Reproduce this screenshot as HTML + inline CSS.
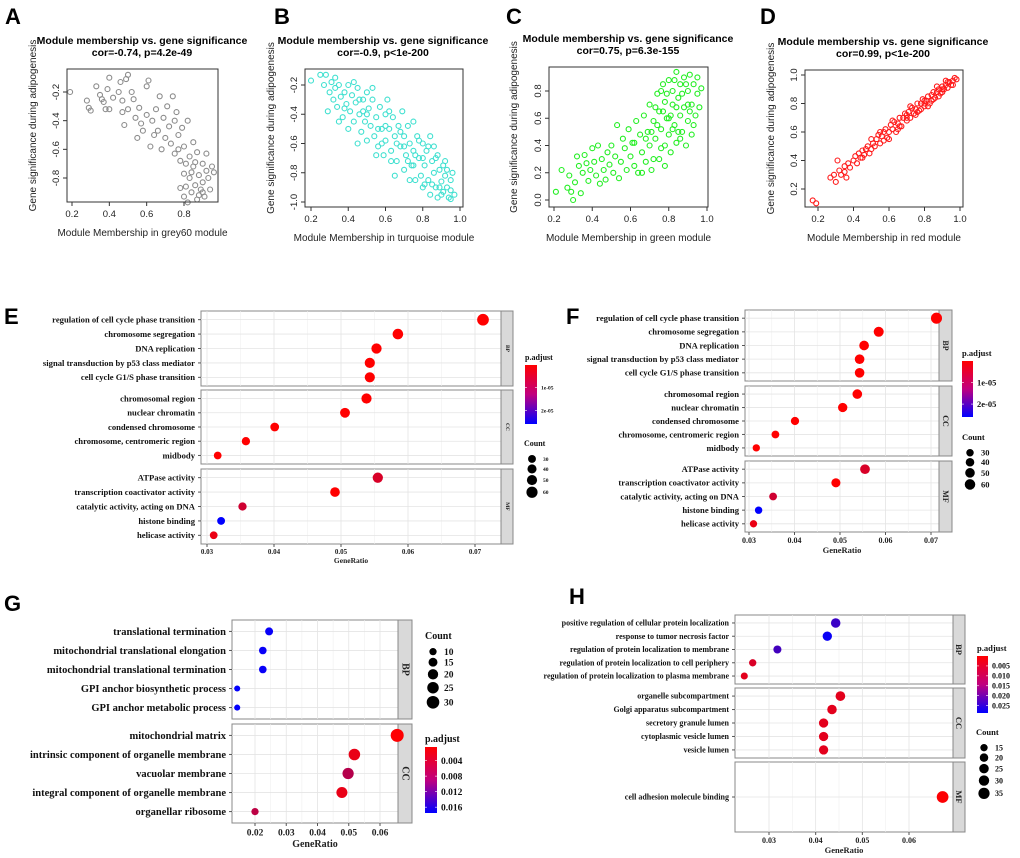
<!DOCTYPE html>
<html><head><meta charset="utf-8">
<style>
html,body{margin:0;padding:0;background:#fff;}
svg{display:block;}
.pl{font-family:"Liberation Sans",Arial,sans-serif;font-weight:bold;font-size:22px;fill:#000;}
.st{font-family:"Liberation Sans",Arial,sans-serif;}
.sf{font-family:"Liberation Serif","Times New Roman",serif;font-weight:bold;}
</style></head>
<body>
<svg id="fig" width="1020" height="858" viewBox="0 0 1020 858" xmlns="http://www.w3.org/2000/svg">
<rect width="1020" height="858" fill="#fff"/>
<text class="pl" x="5" y="24">A</text>
<text class="pl" x="274" y="24">B</text>
<text class="pl" x="506" y="24">C</text>
<text class="pl" x="760" y="24">D</text>
<text class="pl" x="4" y="324">E</text>
<text class="pl" x="566" y="324">F</text>
<text class="pl" x="4" y="611">G</text>
<text class="pl" x="569" y="604">H</text>
</svg>
<script>
// ---------- scatter data (module membership, gene significance) ----------
const pointsA = [[0.19,-0.2],[0.28,-0.26],[0.29,-0.31],[0.3,-0.33],[0.33,-0.16],[0.35,-0.22],[0.36,-0.25],[0.37,-0.27],[0.38,-0.32],[0.39,-0.18],[0.4,-0.1],[0.4,-0.32],[0.42,-0.24],[0.45,-0.2],[0.46,-0.13],[0.47,-0.26],[0.47,-0.34],[0.48,-0.43],[0.49,-0.11],[0.5,-0.32],[0.5,-0.08],[0.52,-0.2],[0.53,-0.25],[0.54,-0.38],[0.55,-0.52],[0.56,-0.31],[0.57,-0.42],[0.58,-0.47],[0.6,-0.16],[0.6,-0.36],[0.61,-0.12],[0.62,-0.58],[0.63,-0.4],[0.64,-0.5],[0.65,-0.32],[0.66,-0.47],[0.67,-0.23],[0.68,-0.6],[0.69,-0.38],[0.7,-0.52],[0.71,-0.3],[0.72,-0.44],[0.73,-0.56],[0.74,-0.23],[0.75,-0.4],[0.75,-0.63],[0.76,-0.34],[0.77,-0.5],[0.78,-0.68],[0.79,-0.45],[0.8,-0.58],[0.8,-0.77],[0.8,-0.93],[0.81,-0.86],[0.82,-0.4],[0.83,-0.65],[0.83,-0.8],[0.84,-0.9],[0.85,-0.55],[0.85,-0.72],[0.86,-0.85],[0.87,-0.62],[0.87,-0.95],[0.88,-0.78],[0.89,-0.88],[0.9,-0.7],[0.9,-0.83],[0.91,-0.93],[0.92,-0.75],[0.93,-0.8],[0.94,-0.88],[0.95,-0.72],[0.96,-0.76],[0.82,-0.97],[0.78,-0.87],[0.86,-0.69],[0.92,-0.63],[0.88,-0.92],[0.84,-0.76],[0.9,-0.9],[0.81,-0.7],[0.77,-0.6]];
const pointsB = [[0.2,-0.17],[0.25,-0.13],[0.27,-0.2],[0.28,-0.13],[0.29,-0.38],[0.3,-0.25],[0.31,-0.18],[0.32,-0.3],[0.33,-0.22],[0.34,-0.35],[0.35,-0.2],[0.36,-0.28],[0.37,-0.42],[0.38,-0.25],[0.39,-0.33],[0.4,-0.2],[0.41,-0.38],[0.42,-0.27],[0.43,-0.45],[0.44,-0.32],[0.45,-0.22],[0.46,-0.4],[0.47,-0.52],[0.48,-0.3],[0.49,-0.45],[0.5,-0.25],[0.5,-0.58],[0.51,-0.36],[0.52,-0.48],[0.53,-0.3],[0.54,-0.55],[0.55,-0.42],[0.56,-0.62],[0.57,-0.35],[0.58,-0.5],[0.59,-0.68],[0.6,-0.4],[0.6,-0.58],[0.61,-0.3],[0.62,-0.5],[0.63,-0.65],[0.64,-0.42],[0.65,-0.55],[0.66,-0.72],[0.67,-0.48],[0.68,-0.62],[0.69,-0.38],[0.7,-0.55],[0.7,-0.78],[0.71,-0.68],[0.72,-0.48],[0.73,-0.6],[0.74,-0.75],[0.75,-0.45],[0.75,-0.65],[0.76,-0.85],[0.77,-0.55],[0.78,-0.7],[0.79,-0.82],[0.8,-0.6],[0.8,-0.9],[0.81,-0.75],[0.82,-0.65],[0.83,-0.85],[0.84,-0.55],[0.84,-0.95],[0.85,-0.72],[0.86,-0.8],[0.87,-0.9],[0.88,-0.68],[0.88,-0.97],[0.89,-0.78],[0.9,-0.86],[0.91,-0.93],[0.92,-0.72],[0.92,-0.82],[0.93,-0.9],[0.94,-0.97],[0.95,-0.85],[0.95,-0.92],[0.96,-0.8],[0.97,-0.95],[0.45,-0.6],[0.55,-0.68],[0.65,-0.82],[0.4,-0.5],[0.35,-0.45],[0.5,-0.4],[0.6,-0.48],[0.7,-0.62],[0.8,-0.7],[0.9,-0.95],[0.85,-0.88],[0.75,-0.75],[0.62,-0.38],[0.53,-0.22],[0.43,-0.18],[0.33,-0.15],[0.78,-0.58],[0.86,-0.62],[0.91,-0.75],[0.73,-0.85],[0.68,-0.52],[0.58,-0.6],[0.48,-0.38],[0.38,-0.36],[0.63,-0.72],[0.83,-0.62],[0.93,-0.78],[0.87,-0.7],[0.66,-0.6],[0.56,-0.5],[0.46,-0.3],[0.76,-0.68],[0.81,-0.88],[0.89,-0.9],[0.95,-0.98],[0.72,-0.72]];
const pointsC = [[0.21,0.06],[0.24,0.22],[0.27,0.09],[0.28,0.18],[0.29,0.06],[0.3,0.0],[0.31,0.13],[0.32,0.32],[0.33,0.25],[0.34,0.05],[0.35,0.2],[0.36,0.33],[0.37,0.27],[0.38,0.14],[0.39,0.22],[0.4,0.38],[0.41,0.28],[0.42,0.18],[0.43,0.4],[0.44,0.12],[0.45,0.3],[0.46,0.22],[0.47,0.15],[0.48,0.35],[0.49,0.26],[0.5,0.4],[0.51,0.2],[0.52,0.32],[0.53,0.55],[0.54,0.16],[0.55,0.28],[0.56,0.45],[0.57,0.38],[0.58,0.22],[0.59,0.52],[0.6,0.32],[0.61,0.42],[0.62,0.25],[0.63,0.58],[0.64,0.2],[0.65,0.48],[0.66,0.35],[0.67,0.62],[0.68,0.28],[0.69,0.5],[0.7,0.4],[0.7,0.7],[0.71,0.22],[0.72,0.58],[0.73,0.45],[0.74,0.78],[0.75,0.3],[0.75,0.65],[0.76,0.52],[0.77,0.85],[0.78,0.4],[0.78,0.72],[0.79,0.6],[0.8,0.88],[0.8,0.48],[0.81,0.35],[0.82,0.7],[0.82,0.8],[0.83,0.55],[0.84,0.94],[0.84,0.42],[0.85,0.75],[0.86,0.62],[0.86,0.85],[0.87,0.5],[0.88,0.9],[0.88,0.68],[0.89,0.4],[0.9,0.8],[0.9,0.58],[0.91,0.92],[0.92,0.7],[0.92,0.48],[0.93,0.85],[0.94,0.62],[0.95,0.78],[0.95,0.9],[0.96,0.68],[0.97,0.82],[0.72,0.3],[0.66,0.2],[0.62,0.42],[0.76,0.38],[0.8,0.6],[0.85,0.5],[0.9,0.7],[0.83,0.88],[0.78,0.25],[0.74,0.55],[0.68,0.45],[0.79,0.78],[0.81,0.62],[0.87,0.78],[0.93,0.55],[0.77,0.65],[0.84,0.68],[0.89,0.85],[0.76,0.8],[0.73,0.68],[0.86,0.45],[0.91,0.65],[0.82,0.52],[0.71,0.5]];
const pointsD = [[0.17,0.12],[0.19,0.1],[0.27,0.28],[0.29,0.3],[0.3,0.25],[0.31,0.4],[0.32,0.33],[0.33,0.3],[0.35,0.36],[0.36,0.28],[0.37,0.38],[0.38,0.35],[0.4,0.4],[0.41,0.43],[0.42,0.38],[0.43,0.45],[0.44,0.42],[0.45,0.47],[0.46,0.44],[0.47,0.48],[0.48,0.5],[0.49,0.45],[0.5,0.55],[0.51,0.52],[0.52,0.5],[0.53,0.55],[0.54,0.58],[0.55,0.52],[0.56,0.57],[0.57,0.6],[0.58,0.62],[0.59,0.56],[0.6,0.6],[0.61,0.65],[0.62,0.62],[0.63,0.67],[0.64,0.6],[0.65,0.66],[0.66,0.7],[0.67,0.64],[0.68,0.7],[0.69,0.73],[0.7,0.68],[0.71,0.74],[0.72,0.7],[0.73,0.77],[0.74,0.73],[0.75,0.76],[0.76,0.8],[0.77,0.75],[0.78,0.8],[0.79,0.83],[0.8,0.78],[0.81,0.82],[0.82,0.85],[0.83,0.8],[0.84,0.86],[0.85,0.88],[0.86,0.84],[0.87,0.88],[0.88,0.9],[0.89,0.87],[0.9,0.92],[0.91,0.9],[0.92,0.93],[0.93,0.91],[0.94,0.95],[0.95,0.93],[0.96,0.96],[0.97,0.98],[0.98,0.97],[0.55,0.6],[0.65,0.62],[0.75,0.72],[0.85,0.83],[0.9,0.88],[0.62,0.68],[0.7,0.72],[0.8,0.82],[0.45,0.42],[0.5,0.48],[0.35,0.32],[0.6,0.55],[0.72,0.78],[0.82,0.78],[0.92,0.96],[0.88,0.85],[0.78,0.76],[0.87,0.92],[0.93,0.95],[0.84,0.82],[0.76,0.74],[0.66,0.64],[0.57,0.54],[0.96,0.93],[0.9,0.9],[0.8,0.8],[0.7,0.7]];

// ---------- GO dot plot data ----------
const termsE = ["regulation of cell cycle phase transition","chromosome segregation","DNA replication","signal transduction by p53 class mediator","cell cycle G1/S phase transition","chromosomal region","nuclear chromatin","condensed chromosome","chromosome, centromeric region","midbody","ATPase activity","transcription coactivator activity","catalytic activity, acting on DNA","histone binding","helicase activity"];
const facetsE = ["BP","BP","BP","BP","BP","CC","CC","CC","CC","CC","MF","MF","MF","MF","MF"];
const ratioE = [0.0712,0.0585,0.0553,0.0543,0.0543,0.0538,0.0506,0.0401,0.0358,0.0316,0.0555,0.0491,0.0353,0.0321,0.031];
const countE = [66,54,51,50,50,50,47,37,33,29,51,45,33,30,29];
const padjE = [1e-9,1e-9,1e-9,1e-9,1e-9,1e-9,1e-9,1e-9,1e-9,1e-9,4e-6,1e-9,5e-6,2.6e-5,2e-6];
const ticksE = [0.03,0.04,0.05,0.06,0.07];
const countLegE = [30,40,50,60];

const termsG = ["translational termination","mitochondrial translational elongation","mitochondrial translational termination","GPI anchor biosynthetic process","GPI anchor metabolic process","mitochondrial matrix","intrinsic component of organelle membrane","vacuolar membrane","integral component of organelle membrane","organellar ribosome"];
const facetsG = ["BP","BP","BP","BP","BP","CC","CC","CC","CC","CC"];
const ratioG = [0.0245,0.0225,0.0225,0.0143,0.0143,0.0655,0.0518,0.0498,0.0478,0.02];
const countG = [12,11,11,7,7,32,25,24,23,10];
const padjG = [0.0165,0.0165,0.0165,0.0168,0.0168,0.0001,0.0015,0.005,0.0015,0.0045];
const ticksG = [0.02,0.03,0.04,0.05,0.06];
const countLegG = [10,15,20,25,30];
const padjLegG = [0.004,0.008,0.012,0.016];

const termsH = ["positive regulation of cellular protein localization","response to tumor necrosis factor","regulation of protein localization to membrane","regulation of protein localization to cell periphery","regulation of protein localization to plasma membrane","organelle subcompartment","Golgi apparatus subcompartment","secretory granule lumen","cytoplasmic vesicle lumen","vesicle lumen","cell adhesion molecule binding"];
const facetsH = ["BP","BP","BP","BP","BP","CC","CC","CC","CC","CC","MF"];
const ratioH = [0.0443,0.0425,0.0318,0.0265,0.0247,0.0453,0.0435,0.0417,0.0417,0.0417,0.0672];
const countH = [25,24,18,15,14,26,25,24,24,24,38];
const padjH = [0.021,0.026,0.02,0.004,0.003,0.003,0.003,0.003,0.003,0.003,0.0003];
const ticksH = [0.03,0.04,0.05,0.06];
const countLegH = [15,20,25,30,35];
const padjLegH = [0.005,0.010,0.015,0.020,0.025];

const NS = "http://www.w3.org/2000/svg";
const fig = document.getElementById('fig');
function mk(tag, attrs, parent, txt){
  const e = document.createElementNS(NS, tag);
  for (const k in attrs) e.setAttribute(k, attrs[k]);
  if (txt !== undefined) e.textContent = txt;
  (parent || fig).appendChild(e);
  return e;
}
function lin(v0,p0,v1,p1){ return v => p0 + (v - v0) * (p1 - p0) / (v1 - v0); }

// ---------- scatter panels ----------
function scatter(cfg, pts){
  const g = mk('g', {});
  
  
  const [l,t,r,b] = cfg.box;
  const sx = lin(cfg.xa[0],cfg.xa[1],cfg.xb[0],cfg.xb[1]);
  const sy = lin(cfg.ya[0],cfg.ya[1],cfg.yb[0],cfg.yb[1]);
  const t1 = mk('text',{x:cfg.tx,y:t-25,'text-anchor':'middle','font-size':'10.5','font-weight':'bold',class:'st'},g,cfg.title1);
  
  
  const t2 = mk('text',{x:cfg.tx,y:t-13,'text-anchor':'middle','font-size':'10.5','font-weight':'bold',class:'st'},g,cfg.title2);
  
  
  pts.forEach(p=>{
    const c = mk('circle',{cx:sx(p[0]).toFixed(1),cy:sy(p[1]).toFixed(1),r:2.5,fill:'none',stroke:cfg.color,'stroke-width':1.1},g);
    
    
  });
  const bx = mk('rect',{x:l,y:t,width:r-l,height:b-t,fill:'none',stroke:'#333','stroke-width':1},g);
  
  
  cfg.xticks.forEach(v=>{
    const x = sx(v);
    mk('line',{x1:x,y1:b,x2:x,y2:b+4,stroke:'#333'},g);
    const tl = mk('text',{x:x,y:b+15,'text-anchor':'middle','font-size':'9.5',fill:'#222',class:'st'},g,v.toFixed(1));
    
    
  });
  cfg.yticks.forEach(v=>{
    const y = sy(v);
    mk('line',{x1:l-4,y1:y,x2:l,y2:y,stroke:'#333'},g);
    const tl = mk('text',{x:l-8,y:y,'text-anchor':'middle','font-size':'9.5',fill:'#222',class:'st',transform:`rotate(-90 ${l-8} ${y})`},g,v.toFixed(1));
    
    
  });
  const xt = mk('text',{x:(l+r)/2,y:b+34,'text-anchor':'middle','font-size':'10',fill:'#222',class:'st'},g,cfg.xtitle);
  
  
  const yc = (t+b)/2 - 10;
  const yt = mk('text',{x:cfg.ytx,y:yc,'text-anchor':'middle','font-size':'10',fill:'#222',class:'st',transform:`rotate(-90 ${cfg.ytx} ${yc})`},g,'Gene significance during adipogenesis');
  
  
}
scatter({name:'scatter-grey60',box:[67,69,218,202],xa:[0.2,72],xb:[0.8,184],ya:[-0.2,92],yb:[-0.8,178],xticks:[0.2,0.4,0.6,0.8],yticks:[-0.2,-0.4,-0.6,-0.8],color:'#8c8c8c',tx:142,title1:'Module membership vs. gene significance',title2:'cor=-0.74, p=4.2e-49',xtitle:'Module Membership in grey60 module',ytx:36},pointsA);
scatter({name:'scatter-turquoise',box:[305,69,463,207],xa:[0.2,311],xb:[1.0,460],ya:[-0.2,85],yb:[-1.0,202],xticks:[0.2,0.4,0.6,0.8,1.0],yticks:[-0.2,-0.4,-0.6,-0.8,-1.0],color:'#40e0d0',tx:383,title1:'Module membership vs. gene significance',title2:'cor=-0.9, p<1e-200',xtitle:'Module Membership in turquoise module',ytx:274},pointsB);
scatter({name:'scatter-green',box:[549,67,708,207],xa:[0.2,554],xb:[1.0,707],ya:[0.0,200],yb:[0.8,91],xticks:[0.2,0.4,0.6,0.8,1.0],yticks:[0.0,0.2,0.4,0.6,0.8],color:'#22ee22',tx:628,title1:'Module membership vs. gene significance',title2:'cor=0.75, p=6.3e-155',xtitle:'Module Membership in green module',ytx:517},pointsC);
scatter({name:'scatter-red',box:[805,70,963,207],xa:[0.2,818],xb:[1.0,960],ya:[0.2,189],yb:[1.0,75],xticks:[0.2,0.4,0.6,0.8,1.0],yticks:[0.2,0.4,0.6,0.8,1.0],color:'#ff1a1a',tx:883,title1:'Module membership vs. gene significance',title2:'cor=0.99, p<1e-200',xtitle:'Module Membership in red module',ytx:774},pointsD);

// ---------- dot plots ----------
function pcol(p, pmax){
  const f = Math.max(0, Math.min(1, p / pmax));
  const r = Math.round(255 * (1 - f)), b = Math.round(255 * f);
  return `rgb(${r},0,${b})`;
}
function dotplot(cfg, terms, facets, ratios, counts, padj, ticks){
  const g = mk('g', {});
  
  
  const sx = lin(ticks[0], cfg.xa, ticks[ticks.length-1], cfg.xb);
  const rad = c => cfg.rk * Math.sqrt(c);
  const names = [...new Set(facets)];
  let rowY = [];
  names.forEach((fn, fi) => {
    const [top, bot] = cfg.panels[fi];
    const idx = facets.map((f,i)=>f===fn?i:-1).filter(i=>i>=0);
    const n = idx.length, h = bot - top;
    const bg = mk('rect',{x:cfg.left,y:top,width:cfg.right-cfg.left,height:h,fill:'#fff',stroke:'#888','stroke-width':1},g);
    
    
    ticks.forEach((v,k)=>{
      const x = sx(v);
      mk('line',{x1:x,y1:top,x2:x,y2:bot,stroke:'#e4e4e4','stroke-width':0.8},g);
      if (k < ticks.length-1){ const xm = sx((v+ticks[k+1])/2); mk('line',{x1:xm,y1:top,x2:xm,y2:bot,stroke:'#f0f0f0','stroke-width':0.6},g); }
    });
    idx.forEach((i,k)=>{
      const y = top + h * (k + 0.6) / (n + 0.2);
      rowY[i] = y;
      mk('line',{x1:cfg.left,y1:y,x2:cfg.right,y2:y,stroke:'#e4e4e4','stroke-width':0.8},g);
      mk('line',{x1:cfg.left-3,y1:y,x2:cfg.left,y2:y,stroke:'#555'},g);
      const lb = mk('text',{x:cfg.left-6,y:y+cfg.fs*0.33,'text-anchor':'end','font-size':cfg.fs,fill:'#111',class:'sf'},g,terms[i]);
      
      
    });
    const sr = mk('rect',{x:cfg.right,y:top,width:cfg.strip-cfg.right,height:h,fill:'#d9d9d9',stroke:'#888','stroke-width':1},g);
    
    
    const cx = (cfg.right+cfg.strip)/2, cy=(top+bot)/2;
    const st = mk('text',{x:cx,y:cy,'text-anchor':'middle','dominant-baseline':'central','font-size':cfg.sfs,fill:'#222',class:'sf',transform:`rotate(90 ${cx} ${cy})`},g,fn);
    
    
  });
  ratios.forEach((v,i)=>{
    const c = mk('circle',{cx:sx(v).toFixed(1),cy:rowY[i].toFixed(1),r:rad(counts[i]).toFixed(2),fill:pcol(padj[i],cfg.pmax)},g);
    
    
  });
  const bottom = cfg.panels[cfg.panels.length-1][1];
  ticks.forEach(v=>{
    const x = sx(v);
    mk('line',{x1:x,y1:bottom,x2:x,y2:bottom+3,stroke:'#555'},g);
    const tl = mk('text',{x:x,y:bottom+cfg.tfs+3,'text-anchor':'middle','font-size':cfg.tfs,fill:'#222',class:'sf'},g,String(v));
    
    
  });
  const xt = mk('text',{x:(cfg.left+cfg.right)/2,y:bottom+cfg.tfs*2+5,'text-anchor':'middle','font-size':cfg.tfs+0.5,fill:'#222',class:'sf'},g,'GeneRatio');
  
  
  return {rad};
}
function colorLegend(name, x, y, w, h, title, labels, labelVals, pmax, fs, tfs){
  const g = mk('g',{});
  
  
  mk('text',{x:x,y:y-5,'font-size':tfs,fill:'#111',class:'sf'},g,title);
  const id = name+'-grad';
  const defs = mk('defs',{},g);
  const lg = mk('linearGradient',{id:id,x1:0,y1:0,x2:0,y2:1},defs);
  mk('stop',{offset:'0%','stop-color':'#ff0000'},lg);
  mk('stop',{offset:'50%','stop-color':'#c0007f'},lg);
  mk('stop',{offset:'100%','stop-color':'#0000ff'},lg);
  mk('rect',{x:x,y:y,width:w,height:h,fill:`url(#${id})`},g);
  labels.forEach((s,i)=>{
    const yy = y + h * labelVals[i] / pmax;
    mk('line',{x1:x,y1:yy,x2:x+2,y2:yy,stroke:'#fff','stroke-width':0.6},g);
    mk('line',{x1:x+w-2,y1:yy,x2:x+w,y2:yy,stroke:'#fff','stroke-width':0.6},g);
    const t = mk('text',{x:x+w+4,y:yy+fs*0.35,'font-size':fs,fill:'#111',class:'sf'},g,s);
    
    
  });
}
function sizeLegend(name, x, y, step, counts, rad, fs, tfs){
  const g = mk('g',{});
  
  
  mk('text',{x:x,y:y,'font-size':tfs,fill:'#111',class:'sf'},g,'Count');
  let yy = y + 6;
  counts.forEach((c,i)=>{
    const r = rad(c);
    yy += (i===0? r+3 : r + step);
    const d = mk('circle',{cx:x+8,cy:yy,r:r,fill:'#000'},g);
    
    
    mk('text',{x:x+8+11,y:yy+fs*0.35,'font-size':fs,fill:'#111',class:'sf'},g,String(c));
    yy += r;
  });
}

// E
const E = dotplot({name:'dotplot-e',left:201,right:501,strip:513,panels:[[311,386],[390,464],[469,544]],xa:207,xb:475,fs:8.6,sfs:5.5,tfs:7,rk:0.72,pmax:2.6e-5},termsE,facetsE,ratioE,countE,padjE,ticksE);
colorLegend('legend-padj-e',525,365,12,59,'p.adjust',['1e-05','2e-05'],[1e-5,2e-5],2.6e-5,5.5,8);
sizeLegend('legend-count-e',524,446,1.5,countLegE,E.rad,5.5,8);
// F
const F = dotplot({name:'dotplot-f',left:745,right:939,strip:952,panels:[[310,381],[386,456],[461,532]],xa:749,xb:931,fs:8.6,sfs:8,tfs:8,rk:0.68,pmax:2.6e-5},termsE,facetsE,ratioE,countE,padjE,ticksE);
colorLegend('legend-padj-f',962,361,11,56,'p.adjust',['1e-05','2e-05'],[1e-5,2e-5],2.6e-5,8.5,8.5);
sizeLegend('legend-count-f',962,440,1.5,countLegE,F.rad,8.5,8.5);
// G
const G = dotplot({name:'dotplot-g',left:232,right:398,strip:412,panels:[[620,719],[724,823]],xa:255,xb:380,fs:10.5,sfs:10,tfs:9.5,rk:1.15,pmax:0.017},termsG,facetsG,ratioG,countG,padjG,ticksG);
sizeLegend('legend-count-g',425,639,2.5,countLegG,G.rad,9.5,10);
colorLegend('legend-padj-g',425,747,12,66,'p.adjust',['0.004','0.008','0.012','0.016'],[0.0035,0.0075,0.0115,0.0155],0.017,9.5,10);
// H
const H = dotplot({name:'dotplot-h',left:735,right:953,strip:965,panels:[[615,684],[688,758],[762,832]],xa:769,xb:909,fs:8,sfs:8.5,tfs:8,rk:0.95,pmax:0.027},termsH,facetsH,ratioH,countH,padjH,ticksH);
colorLegend('legend-padj-h',977,656,11,57,'p.adjust',['0.005','0.010','0.015','0.020','0.025'],[0.0047,0.0094,0.0141,0.0188,0.0235],0.027,8,8.5);
sizeLegend('legend-count-h',976,735,2,countLegH,H.rad,8,8.5);
</script>
</body></html>
